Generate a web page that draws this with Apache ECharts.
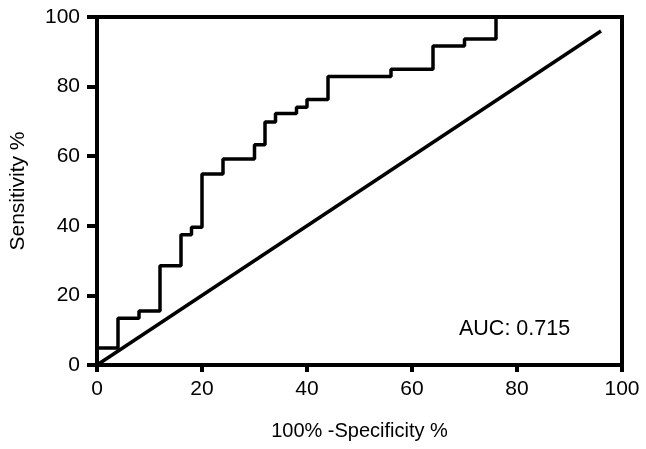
<!DOCTYPE html>
<html>
<head>
<meta charset="utf-8">
<script src="https://cdn.jsdelivr.net/npm/echarts@6/dist/echarts.min.js"></script>
<style>
  html, body { margin: 0; padding: 0; background: #fff; }
  #miGrafico { width: 646px; height: 449px; }
</style>
</head>
<body>
<div id="miGrafico"></div>
<script>
// ROC curve corners (100% - specificity, sensitivity)
var fpr = [0, 0, 4, 8, 12, 16, 18, 20, 24, 30, 32, 34, 38, 40, 44, 56, 64, 70, 76];
var tpr = [0, 4.9, 13.4, 15.5, 28.5, 37.4, 39.6, 54.9, 59.2, 63.3, 69.8, 72.3, 74.1, 76.3, 82.9, 85, 91.7, 93.7, 100];
// reference line
var refX = [0, 96];
var refY = [0, 96];
var xTicks = [0, 20, 40, 60, 80, 100];
var yTicks = [0, 20, 40, 60, 80, 100];
var aucText = 'AUC: 0.715';

var chartDom = document.getElementById('miGrafico');
var myChart = echarts.init(chartDom);

var rocData = fpr.map(function (x, i) { return [x, tpr[i]]; });
var refData = refX.map(function (x, i) { return [x, refY[i]]; });

var fontFam = '"Liberation Sans", Arial, sans-serif';

var option = {
  animation: false,
  grid: {
    left: 97, right: 24, top: 17, bottom: 84,
    show: true, borderColor: '#000', borderWidth: 4
  },
  xAxis: {
    type: 'value', min: 0, max: 100, interval: 20,
    name: '100% -Specificity %', nameLocation: 'middle', nameGap: 56,
    nameTextStyle: { color: '#000', fontSize: 20, fontFamily: fontFam },
    axisLine: { show: true, lineStyle: { color: '#000', width: 4 } },
    axisTick: { show: true, length: 7, lineStyle: { color: '#000', width: 4 } },
    axisLabel: { color: '#000', fontSize: 21, fontFamily: fontFam, margin: 14,
      formatter: function (v) { return xTicks.indexOf(v) >= 0 ? String(v) : ''; } },
    splitLine: { show: false }
  },
  yAxis: {
    type: 'value', min: 0, max: 100, interval: 20,
    name: 'Sensitivity %', nameLocation: 'middle', nameGap: 68,
    nameTextStyle: { color: '#000', fontSize: 21, fontFamily: fontFam },
    axisLine: { show: true, lineStyle: { color: '#000', width: 4 } },
    axisTick: { show: true, length: 10, lineStyle: { color: '#000', width: 4 } },
    axisLabel: { color: '#000', fontSize: 21, fontFamily: fontFam, margin: 17,
      formatter: function (v) { return yTicks.indexOf(v) >= 0 ? String(v) : ''; } },
    splitLine: { show: false }
  },
  graphic: [{
    type: 'text', left: 459, top: 318,
    style: { text: aucText, fill: '#000', font: '21.5px ' + fontFam }
  }],
  series: [
    {
      type: 'line', data: rocData, step: 'end', symbol: 'none',
      lineStyle: { color: '#000', width: 3.5 }, z: 3
    },
    {
      type: 'line', data: refData, symbol: 'none',
      lineStyle: { color: '#000', width: 3.5 }, z: 3
    }
  ]
};

myChart.setOption(option);

window.addEventListener('resize', function () {
  myChart.resize();
});
</script>
</body>
</html>
